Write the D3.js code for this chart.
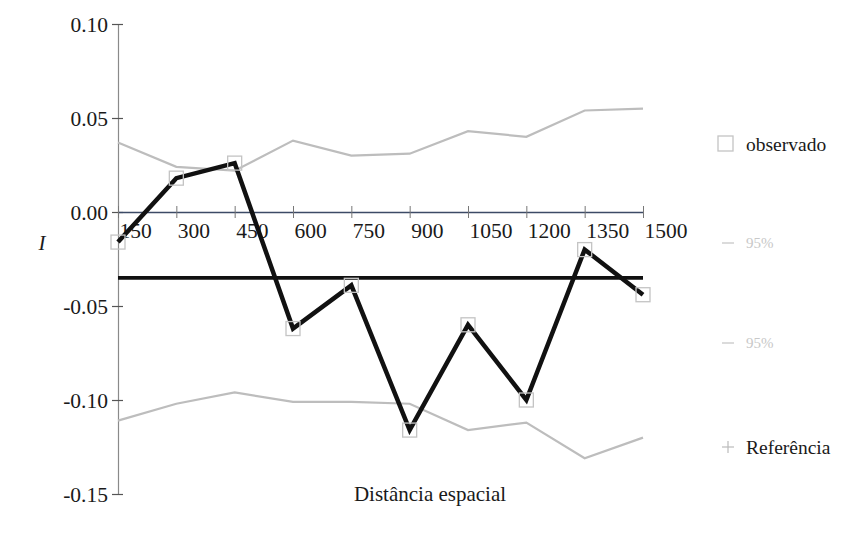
<!DOCTYPE html>
<html>
<head>
<meta charset="utf-8">
<script src="https://cdn.jsdelivr.net/npm/d3@7"></script>
<style>
  html, body { margin: 0; padding: 0; background: #fff; }
  svg { display: block; }
  text { font-family: "Liberation Serif", "Times New Roman", serif; }
</style>
</head>
<body>
<svg id="chart" width="848" height="534"></svg>
<script>
// Correlogram: Moran's I by spatial distance class
const distances = [150, 300, 450, 600, 750, 900, 1050, 1200, 1350, 1500];
const observed  = [-0.016, 0.018, 0.026, -0.062, -0.039, -0.116, -0.060, -0.100, -0.020, -0.044];
const upper95   = [0.037, 0.024, 0.022, 0.038, 0.030, 0.031, 0.043, 0.040, 0.054, 0.055];
const lower95   = [-0.111, -0.102, -0.096, -0.101, -0.101, -0.102, -0.116, -0.112, -0.131, -0.120];
const reference = distances.map(() => -0.035);
const yTicks = [0.10, 0.05, 0.00, -0.05, -0.10, -0.15];
const legendLabels = ["observado", "95%", "95%", "Referência"];

const svg = d3.select("#chart");
const x = d3.scaleLinear().domain([150, 1500]).range([118, 643]);
const y = d3.scaleLinear().domain([-0.15, 0.10]).range([494, 24]);

const bandColor = "#bdbdbd";
// plain hyphen for negatives
const fmt = v => d3.format(".2f")(v).replace("\u2212", "-");

// Y axis
const yAxis = svg.append("g").attr("transform", `translate(${x(150)},0)`)
  .call(d3.axisLeft(y).tickValues(yTicks).tickFormat(fmt).tickSizeOuter(0).tickSizeInner(0));
yAxis.select(".domain").attr("stroke", "#8a8a8a").attr("stroke-width", 1.2);
yAxis.selectAll(".tick line").remove();
yAxis.selectAll(".tick").append("line")
  .attr("x1", -6).attr("x2", 5).attr("stroke", "#555").attr("stroke-width", 1.2);
yAxis.selectAll(".tick text")
  .attr("x", -10).attr("dy", "0.35em")
  .attr("font-size", 21.5).attr("fill", "#1a1a1a")
  .style("font-family", "'Liberation Serif', serif");

// X axis along I = 0
const xAxis = svg.append("g").attr("transform", `translate(0,${y(0)})`)
  .call(d3.axisBottom(x).tickValues(distances).tickFormat(d3.format("d")).tickSizeOuter(0).tickSizeInner(0));
xAxis.select(".domain").attr("stroke", "#3c4a66").attr("stroke-width", 1.6);
xAxis.selectAll(".tick line").remove();
xAxis.selectAll(".tick").append("line")
  .attr("y1", -6).attr("y2", 6).attr("stroke", "#777").attr("stroke-width", 1);
xAxis.selectAll(".tick text")
  .attr("text-anchor", "start").attr("x", 1).attr("y", 26).attr("dy", 0)
  .attr("font-size", 21.5).attr("fill", "#1a1a1a")
  .style("font-family", "'Liberation Serif', serif");

const line = d3.line().x((d, i) => x(distances[i])).y(d => y(d));

// Confidence envelope
svg.append("path").datum(upper95).attr("d", line)
  .attr("fill", "none").attr("stroke", bandColor).attr("stroke-width", 2.2);
svg.append("path").datum(lower95).attr("d", line)
  .attr("fill", "none").attr("stroke", bandColor).attr("stroke-width", 2.2);

// Expected value under no autocorrelation
svg.append("path").datum(reference).attr("d", line)
  .attr("fill", "none").attr("stroke", "#111").attr("stroke-width", 3.8);

// Observed I
svg.append("path").datum(observed).attr("d", line)
  .attr("fill", "none").attr("stroke", "#111").attr("stroke-width", 4.5)
  .attr("stroke-linejoin", "miter");
svg.append("g").selectAll("rect").data(observed).join("rect")
  .attr("x", (d, i) => x(distances[i]) - 7)
  .attr("y", d => y(d) - 7)
  .attr("width", 14).attr("height", 14)
  .attr("fill", "none").attr("stroke", "#c4c4c4").attr("stroke-width", 1.3);

// Axis titles
svg.append("text").attr("x", 430).attr("y", 501).attr("text-anchor", "middle")
  .attr("font-size", 21).attr("fill", "#1a1a1a").text("Distância espacial");
svg.append("text").attr("x", 42).attr("y", 250).attr("text-anchor", "middle")
  .attr("font-size", 21).attr("font-style", "italic").attr("fill", "#1a1a1a").text("I");

// Legend
const leg = svg.append("g");
const legY = [144, 243, 343, 447];
leg.append("rect").attr("x", 718).attr("y", legY[0] - 8).attr("width", 15).attr("height", 15)
  .attr("fill", "none").attr("stroke", "#c4c4c4").attr("stroke-width", 1.3);
[1, 2].forEach(k => {
  leg.append("line").attr("x1", 722).attr("x2", 734).attr("y1", legY[k]).attr("y2", legY[k])
    .attr("stroke", "#cfcfcf").attr("stroke-width", 1.5);
});
leg.append("line").attr("x1", 722).attr("x2", 734).attr("y1", legY[3]).attr("y2", legY[3])
  .attr("stroke", "#bbb").attr("stroke-width", 1.2);
leg.append("line").attr("x1", 728).attr("x2", 728).attr("y1", legY[3] - 6).attr("y2", legY[3] + 6)
  .attr("stroke", "#bbb").attr("stroke-width", 1.2);
leg.selectAll("text.lbl").data(legendLabels).join("text").attr("class", "lbl")
  .attr("x", 746).attr("y", (d, i) => legY[i]).attr("dy", "0.35em")
  .attr("font-size", (d, i) => (i === 1 || i === 2) ? 15 : 19.5)
  .attr("fill", (d, i) => (i === 1 || i === 2) ? "#c8c8c8" : "#1a1a1a")
  .text(d => d);
</script>
</body>
</html>
